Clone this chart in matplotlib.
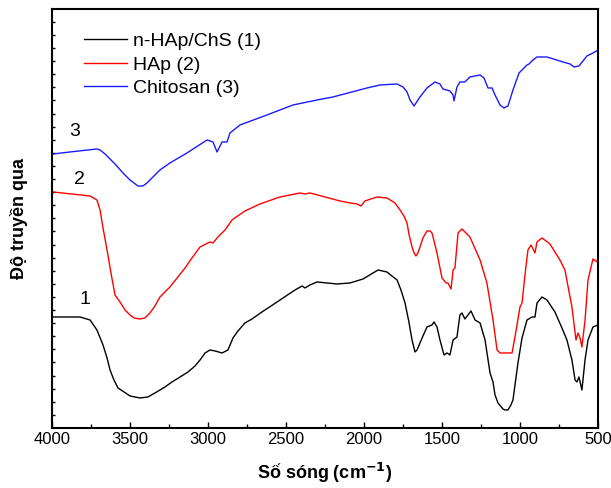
import matplotlib
matplotlib.use("Agg")
import matplotlib.pyplot as plt
import numpy as np

plt.rcParams['font.family'] = ['Liberation Sans', 'DejaVu Sans']

# FTIR spectra: wavenumber (cm-1) and transmittance (arbitrary units, offset)
wn_chitosan = [3994, 3885, 3712, 3692, 3660, 3628, 3590, 3545, 3500, 3449, 3417, 3391,
               3353, 3308, 3244, 3135, 3006, 2968, 2942,
               2910, 2878, 2859, 2795, 2622, 2455, 2301, 2199, 1981, 1897, 1788, 1750,
               1724, 1705, 1679, 1641, 1596, 1545, 1513, 1494, 1449, 1429, 1423, 1404, 1385,
               1353, 1321, 1256, 1231, 1205, 1179, 1160, 1128, 1103, 1077, 1045, 1006,
               955, 942, 917, 891, 827, 724, 679, 654, 622, 596, 571, 532, 500]
t_chitosan = [274, 276, 279, 278, 274, 269, 263, 255, 248, 242, 242, 245,
              251, 258, 265, 275, 288, 286, 276,
              286, 286, 295, 303, 313, 323, 328, 331, 340, 343, 344, 341,
              336, 328, 322, 331, 340, 346, 344, 339, 337, 333, 327, 341, 346,
              346, 351, 353, 350, 340, 340, 333, 323, 320, 322, 338, 355,
              363, 364, 368, 371, 371, 366, 364, 361, 362, 367, 372, 375, 378]

wn_hap = [3994, 3756, 3712, 3692, 3673, 3647, 3622, 3596, 3564, 3532, 3500, 3474, 3436,
          3404, 3372, 3340, 3308, 3244,
          3147, 3103, 3051, 2987, 2968, 2936, 2891, 2846, 2763, 2667, 2538, 2410, 2378,
          2346, 2154, 2090, 2045, 2019, 1994, 1917, 1853, 1801, 1769, 1744, 1724, 1712,
          1692, 1679, 1667, 1654,
          1641, 1622, 1596, 1577, 1564, 1532, 1500, 1474, 1462, 1442, 1429, 1417, 1397, 1372,
          1321, 1256, 1212, 1173, 1147, 1128, 1051, 1032, 1000, 987, 968, 949, 929,
          904, 891, 859, 808, 744, 712, 667, 641, 628, 615, 603, 583, 564, 532,
          506, 500]
t_hap = [236, 232, 228, 218, 200, 178, 155, 133, 126, 118, 113, 110, 109,
         110, 115, 122, 131, 141,
         160, 170, 181, 186, 185, 191, 198, 208, 217, 224, 231, 235, 234,
         235, 227, 225, 224, 222, 227, 231, 230, 225, 218, 212, 205, 194,
         181, 175, 172, 175,
         181, 190, 197, 197, 195, 175, 150, 145, 145, 139, 158, 160, 195, 199,
         191, 168, 145, 108, 78, 75, 75, 91, 121, 125, 153, 178, 183,
         175, 186, 190, 184, 168, 158, 121, 88, 95, 90, 81, 108, 148, 169,
         166, 171]

wn_composite = [3994, 3821, 3756, 3712, 3673, 3647, 3628, 3603, 3577, 3538, 3500, 3436,
                3385, 3340, 3276, 3231, 3179, 3128,
                3083, 3051, 3019, 2987, 2955, 2910, 2872, 2840, 2808, 2763, 2718, 2654,
                2538, 2442, 2397,
                2378, 2346, 2301, 2173, 2090, 2006, 1910, 1853, 1821, 1788, 1763, 1737,
                1712, 1692, 1673, 1660,
                1641, 1622, 1596, 1564, 1551, 1532, 1513, 1487, 1468, 1449, 1429, 1404, 1385,
                1372, 1353, 1314, 1288, 1256, 1224, 1192, 1173, 1160, 1141, 1109, 1096,
                1077, 1058, 1045, 1032,
                1013, 987, 955, 923, 904, 891, 859, 827, 776, 731, 699, 667, 647, 635, 622,
                603, 583, 564, 532, 500]
t_composite = [111, 111, 108, 98, 83, 70, 58, 48, 40, 36, 32, 30,
               31, 35, 41, 46, 51, 56,
               62, 68, 75, 78, 77, 75, 78, 90, 97, 105, 109, 116,
               128, 138, 142,
               140, 143, 146, 144, 145, 149, 158, 156, 152, 148, 138, 125,
               106, 88, 76, 78,
               85, 92, 101, 103, 106, 101, 88, 73, 75, 73, 88, 91, 113,
               115, 109, 117, 108, 105, 88, 55, 46, 33, 25, 19, 18,
               18, 23, 28, 43,
               65, 90, 108, 111, 111, 125, 131, 128, 116, 100, 88, 68, 48, 46, 51,
               38, 68, 88, 101, 103]

series_labels = ["n-HAp/ChS (1)", "HAp (2)", "Chitosan (3)"]
curve_numbers = ["1", "2", "3"]
x_ticks = [4000, 3500, 3000, 2500, 2000, 1500, 1000, 500]

fig = plt.figure(figsize=(6.11, 4.88), dpi=100)
ax = fig.add_axes([0.0851, 0.123, 0.8936, 0.8586])

ax.plot(wn_composite, t_composite, color="black", lw=1.0, label=series_labels[0])
ax.plot(wn_hap, t_hap, color="#ff0000", lw=1.0, label=series_labels[1])
ax.plot(wn_chitosan, t_chitosan, color="#1a1aff", lw=1.0, label=series_labels[2])

# curve number annotations
ax.text(3788, 128, curve_numbers[0], fontsize=14, ha="center", va="center")
ax.text(3821, 248, curve_numbers[1], fontsize=14, ha="center", va="center")
ax.text(3853, 296, curve_numbers[2], fontsize=14, ha="center", va="center")

ax.set_xlim(4000, 500)
ax.set_ylim(0, 419)
ax.set_xticks(x_ticks)
ax.set_xticklabels([str(t) for t in x_ticks], fontsize=12)
ax.set_xticks(np.arange(3750, 500, -500), minor=True)
ax.set_yticks(np.arange(13.1, 419, 13.1))
ax.set_yticklabels([])

ax.tick_params(axis="x", which="major", direction="in", length=4, width=1, pad=3,
               top=False)
ax.tick_params(axis="x", which="minor", direction="in", length=3, width=1, top=False)
ax.tick_params(axis="y", which="major", direction="in", length=2.5, width=1,
               right=False)

for sp in ax.spines.values():
    sp.set_linewidth(1.5)

ax.set_xlabel("Số sóng (cm$^{\\mathbf{-1}}$)", fontsize=13, fontweight="bold", labelpad=10)
ax.set_ylabel("Độ truyền qua", fontsize=13, fontweight="bold", labelpad=14)

leg = ax.legend(loc="upper left", bbox_to_anchor=(0.045, 0.962), frameon=False,
                fontsize=14, handlelength=2.2, handletextpad=0.3, labelspacing=0.3,
                borderaxespad=0.0)

fig.savefig("out.png", dpi=100)
